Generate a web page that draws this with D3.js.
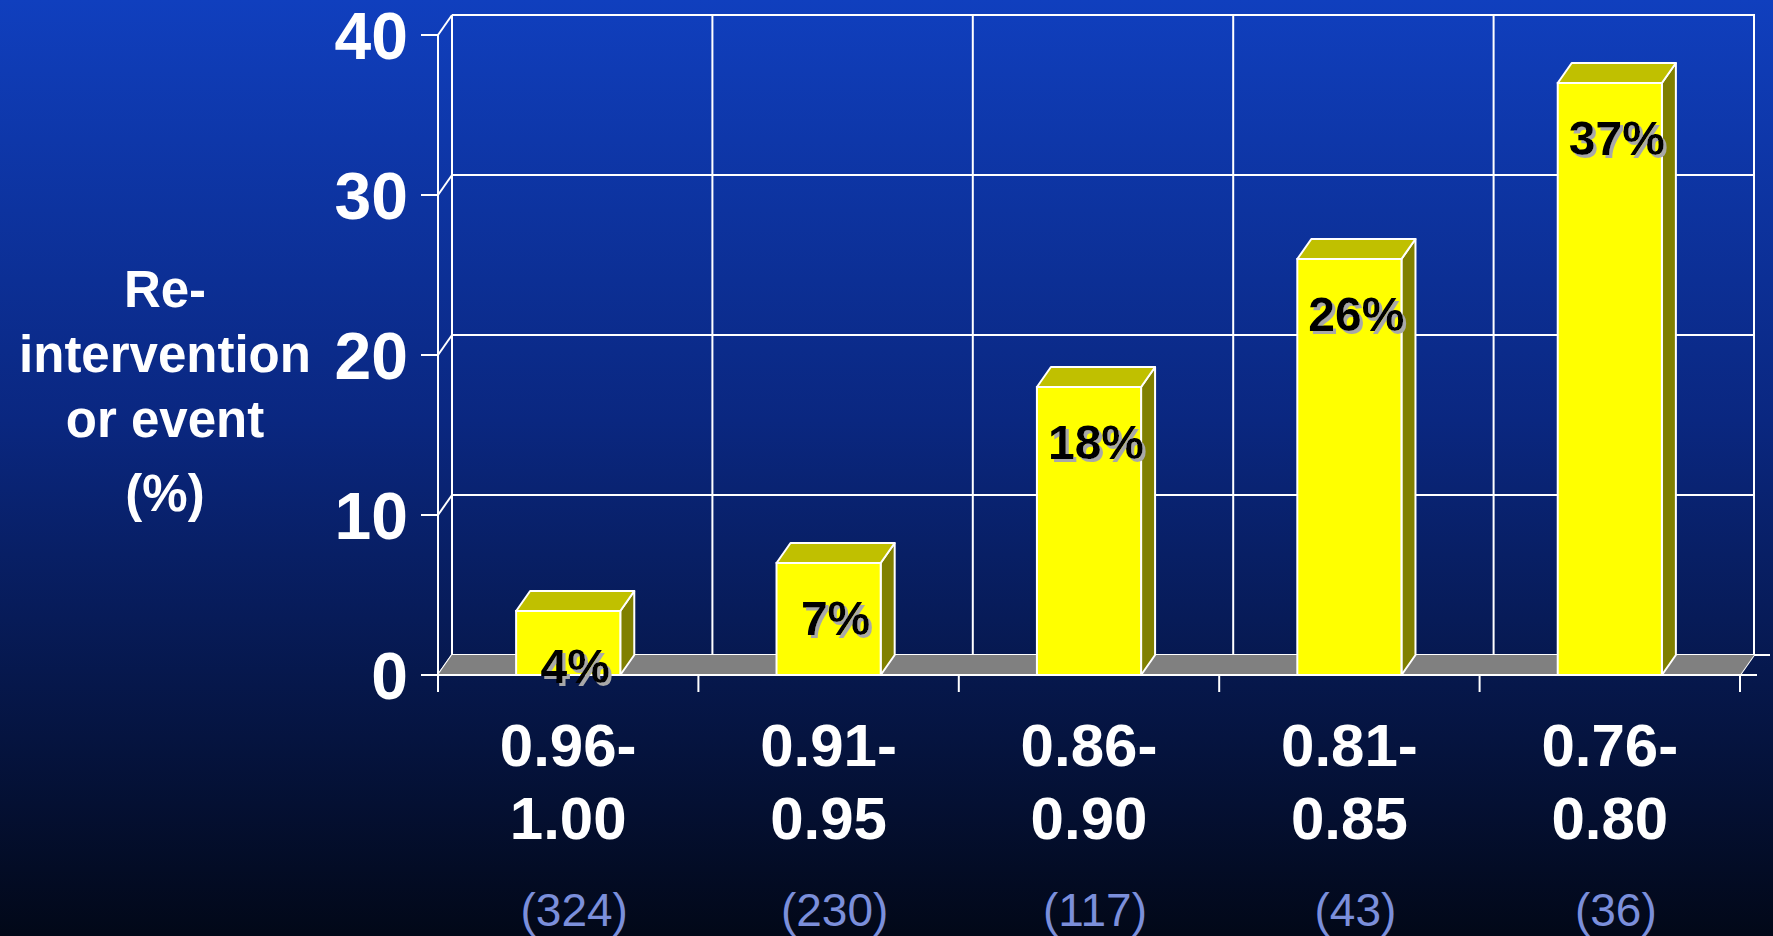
<!DOCTYPE html>
<html>
<head>
<meta charset="utf-8">
<script src="https://cdn.jsdelivr.net/npm/d3@7"></script>
<style>
  html, body { margin: 0; padding: 0; background: #020818; }
  svg { display: block; }
  text { font-family: "Liberation Sans", Arial, "DejaVu Sans", sans-serif; }
</style>
</head>
<body>
<svg id="chart" width="1773" height="936"></svg>
<script>
// Re-intervention or event rate by index range
const rangeStart = ["0.96-", "0.91-", "0.86-", "0.81-", "0.76-"];
const rangeEnd = ["1.00", "0.95", "0.90", "0.85", "0.80"];
const patientCounts = ["(324)", "(230)", "(117)", "(43)", "(36)"];
const eventRates = [4, 7, 18, 26, 37];
const yTicks = [0, 10, 20, 30, 40];
const yTitleLines = ["Re-", "intervention", "or event", "(%)"];

const categories = rangeStart.map((s, i) => s + rangeEnd[i]);

const W = 1773, H = 936;
const svg = d3.select("#chart");

// Background gradient
const defs = svg.append("defs");
const grad = defs.append("linearGradient")
  .attr("id", "bg").attr("x1", 0).attr("y1", 0).attr("x2", 0).attr("y2", 1);
grad.append("stop").attr("offset", "0%").attr("stop-color", "#103fbe");
grad.append("stop").attr("offset", "45%").attr("stop-color", "#0a2780");
grad.append("stop").attr("offset", "100%").attr("stop-color", "#020818");
svg.append("rect").attr("width", W).attr("height", H).attr("fill", "url(#bg)");

// Text shadow for bar labels
const sh = defs.append("filter").attr("id", "shadow")
  .attr("x", "-20%").attr("y", "-20%").attr("width", "140%").attr("height", "140%");
sh.append("feFlood").attr("flood-color", "#a8a8a8").attr("result", "c");
sh.append("feComposite").attr("in", "c").attr("in2", "SourceAlpha").attr("operator", "in").attr("result", "s");
sh.append("feOffset").attr("in", "s").attr("dx", 2.5).attr("dy", 2.5).attr("result", "o");
const mg = sh.append("feMerge");
mg.append("feMergeNode").attr("in", "o");
mg.append("feMergeNode").attr("in", "SourceGraphic");

// Plot frame (front plane) and depth offset for the 3D look
const x0 = 438, x1 = 1740;
const depth = { dx: 14, dy: -20 };

const x = d3.scaleBand().domain(categories).range([x0, x1]).paddingInner(0.6).paddingOuter(0.3);
const xStep = d3.scaleBand().domain(categories).range([x0, x1]).padding(0);
const y = d3.scaleLinear().domain([0, 40]).range([675, 35]);

const line = (a, b) => d3.line()([a, b]);
const WHITE = "#ffffff";
const lw = 2;

const grid = svg.append("g").attr("fill", "none").attr("stroke", WHITE).attr("stroke-width", lw);

// Back wall horizontal gridlines
yTicks.filter(t => t > 0).forEach(t => {
  const yb = y(t) + depth.dy;
  grid.append("path").attr("d", line([x0 + depth.dx, yb], [x1 + depth.dx + 1, yb]));
});
// Back wall vertical gridlines (category boundaries + right edge)
const boundaries = categories.map(c => xStep(c)).concat([x1]);
boundaries.forEach((bx, i) => {
  grid.append("path").attr("d", line([bx + depth.dx, y(0) + depth.dy], [bx + depth.dx, y(40) + depth.dy]));
});

// Side wall: diagonals from front ticks to back wall
yTicks.forEach(t => {
  grid.append("path").attr("d", line([x0, y(t)], [x0 + depth.dx, y(t) + depth.dy]));
});

// Floor
const floorPts = [[x0, y(0)], [x1, y(0)], [x1 + depth.dx, y(0) + depth.dy], [x0 + depth.dx, y(0) + depth.dy]];
svg.append("polygon").attr("points", floorPts.map(p => p.join(",")).join(" "))
  .attr("fill", "#808080").attr("stroke", "none");
// Back floor edge (extends slightly past the wall)
grid.append("path").attr("d", line([x0 + depth.dx, y(0) + depth.dy], [x1 + depth.dx + 16, y(0) + depth.dy]));
// Floor diagonals at category boundaries
boundaries.forEach(bx => {
  grid.append("path").attr("d", line([bx, y(0)], [bx + depth.dx, y(0) + depth.dy]));
});

// Front axes
const axes = svg.append("g").attr("fill", "none").attr("stroke", WHITE).attr("stroke-width", lw);
axes.append("path").attr("d", line([x0, y(0) + 17], [x0, y(40)]));
yTicks.forEach(t => axes.append("path").attr("d", line([x0 - 17, y(t)], [x0, y(t)])));
axes.append("path").attr("d", line([x0, y(0)], [x1 + 17, y(0)]));
boundaries.forEach(bx => axes.append("path").attr("d", line([bx, y(0)], [bx, y(0) + 17])));

// Bars as 3D boxes
const bars = svg.append("g").selectAll("g").data(categories).join("g");
bars.each(function (c, i) {
  const g = d3.select(this);
  const bx0 = x(c), bx1 = x(c) + x.bandwidth();
  const yt = y(eventRates[i]), yb = y(0);
  const { dx, dy } = depth;
  const poly = pts => pts.map(p => p.join(",")).join(" ");
  g.append("polygon").attr("points", poly([[bx1, yt], [bx1 + dx, yt + dy], [bx1 + dx, yb + dy], [bx1, yb]]))
    .attr("fill", "#808000").attr("stroke", WHITE).attr("stroke-width", lw).attr("stroke-linejoin", "round");
  g.append("polygon").attr("points", poly([[bx0, yt], [bx1, yt], [bx1 + dx, yt + dy], [bx0 + dx, yt + dy]]))
    .attr("fill", "#c0c000").attr("stroke", WHITE).attr("stroke-width", lw).attr("stroke-linejoin", "round");
  g.append("rect").attr("x", bx0).attr("y", yt).attr("width", bx1 - bx0).attr("height", yb - yt)
    .attr("fill", "#ffff00").attr("stroke", WHITE).attr("stroke-width", lw);
});

// Value labels
svg.append("g").selectAll("text").data(categories).join("text")
  .attr("x", c => x(c) + x.bandwidth() / 2 + 7)
  .attr("y", (c, i) => y(eventRates[i]) + 72)
  .attr("text-anchor", "middle")
  .attr("font-size", 48).attr("font-weight", "bold").attr("fill", "#000")
  .attr("filter", "url(#shadow)")
  .text((c, i) => eventRates[i] + "%");

// Y tick labels
svg.append("g").selectAll("text").data(yTicks).join("text")
  .attr("x", 408).attr("y", t => y(t) + 0.358 * 66)
  .attr("text-anchor", "end")
  .attr("font-size", 66).attr("font-weight", "bold").attr("fill", WHITE)
  .text(t => t);

// Y axis title
const yTitleBaselines = [307, 372, 437, 511];
svg.append("g").selectAll("text").data(yTitleLines).join("text")
  .attr("x", 165).attr("y", (d, i) => yTitleBaselines[i])
  .attr("text-anchor", "middle")
  .attr("font-size", 51).attr("font-weight", "bold").attr("fill", WHITE)
  .text(d => d);

// Category labels (two lines) and patient counts
const cx = c => xStep(c) + xStep.bandwidth() / 2;
const xl = svg.append("g").attr("text-anchor", "middle");
xl.selectAll("text.r1").data(categories).join("text").attr("class", "r1")
  .attr("x", cx).attr("y", 766)
  .attr("font-size", 60).attr("font-weight", "bold").attr("fill", WHITE)
  .text((c, i) => rangeStart[i]);
xl.selectAll("text.r2").data(categories).join("text").attr("class", "r2")
  .attr("x", cx).attr("y", 839)
  .attr("font-size", 60).attr("font-weight", "bold").attr("fill", WHITE)
  .text((c, i) => rangeEnd[i]);
xl.selectAll("text.r3").data(categories).join("text").attr("class", "r3")
  .attr("x", c => cx(c) + 6).attr("y", 926)
  .attr("font-size", 46).attr("fill", "#7b8fdb")
  .text((c, i) => patientCounts[i]);
</script>
</body>
</html>
